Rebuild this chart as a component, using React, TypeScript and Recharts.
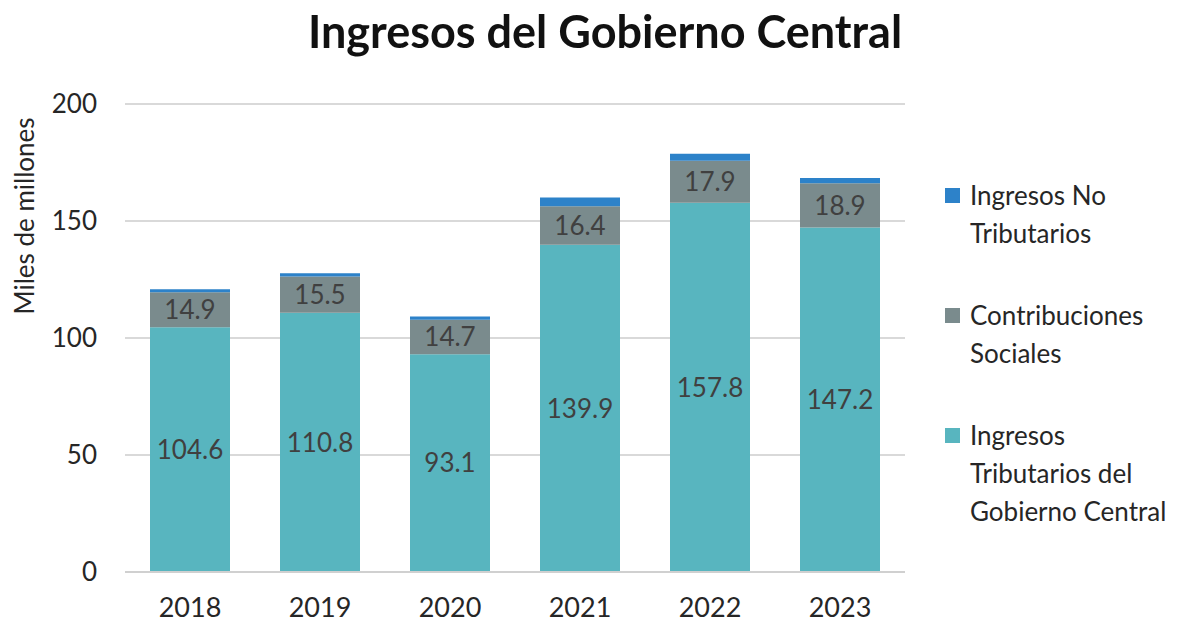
import { Bar, BarChart, CartesianGrid, LabelList, XAxis, YAxis } from "recharts";

const YEARS = ["2018", "2019", "2020", "2021", "2022", "2023"];
const TRIBUTARIOS = [104.6, 110.8, 93.1, 139.9, 157.8, 147.2];
const CONTRIBUCIONES = [14.9, 15.5, 14.7, 16.4, 17.9, 18.9];
const NO_TRIBUTARIOS = [1.3, 1.4, 1.4, 3.7, 3.0, 2.3];
const Y_TICKS = [0, 50, 100, 150, 200];

const FONT = "Lato, 'Open Sans', sans-serif";
const TEAL = "#58B5BF";
const GRAY = "#7A8B8D";
const BLUE = "#2D82C9";

const LEGEND_ITEMS = [
  { color: BLUE, lines: ["Ingresos No", "Tributarios"] },
  { color: GRAY, lines: ["Contribuciones", "Sociales"] },
  { color: TEAL, lines: ["Ingresos", "Tributarios del", "Gobierno Central"] },
];

const data = YEARS.map((year, i) => ({
  year,
  tributarios: TRIBUTARIOS[i],
  contribuciones: CONTRIBUCIONES[i],
  noTributarios: NO_TRIBUTARIOS[i],
}));

function ChartLegend() {
  return (
    <div
      style={{
        position: "absolute", left: 945, top: 176, width: 250,
        fontFamily: FONT, fontSize: 26, color: "#262626", lineHeight: "38px",
      }}
    >
      {LEGEND_ITEMS.map((it, i) => (
        <div key={i} style={{ display: "flex", alignItems: "flex-start", marginBottom: 44 }}>
          <span style={{ width: 15, height: 15, background: it.color, marginTop: 12, marginRight: 10, flexShrink: 0 }} />
          <div>
            {it.lines.map((l) => (
              <div key={l} style={{ whiteSpace: "nowrap" }}>{l}</div>
            ))}
          </div>
        </div>
      ))}
    </div>
  );
}

const fmt = (v: any) => Number(v).toFixed(1);

export default function App() {
  return (
    <div style={{ position: "fixed", left: 0, top: 0, width: 1197, height: 626, background: "#fff" }}>
      <BarChart
        width={1197}
        height={626}
        data={data}
        margin={{ top: 104, right: 292, bottom: 0, left: 0 }}
      >
        <CartesianGrid vertical={false} stroke="#d9d9d9" strokeWidth={2} />
        <XAxis
          dataKey="year"
          height={54}
          tickLine={false}
          axisLine={{ stroke: "#d0d0d0", strokeWidth: 2 }}
          tickMargin={20}
          tick={{ fill: "#262626", fontSize: 27, fontFamily: FONT }}
        />
        <YAxis
          width={125}
          domain={[0, 200]}
          ticks={Y_TICKS}
          tickLine={false}
          axisLine={false}
          tickMargin={22}
          tick={{ fill: "#262626", fontSize: 26, fontFamily: FONT }}
        />
        <Bar dataKey="tributarios" stackId="a" fill={TEAL} barSize={80} isAnimationActive={false}>
          <LabelList dataKey="tributarios" position="center" fill="#404040" fontSize={26} fontFamily={FONT} formatter={fmt} />
        </Bar>
        <Bar dataKey="contribuciones" stackId="a" fill={GRAY} barSize={80} isAnimationActive={false}>
          <LabelList dataKey="contribuciones" position="center" fill="#404040" fontSize={26} fontFamily={FONT} formatter={fmt} />
        </Bar>
        <Bar dataKey="noTributarios" stackId="a" fill={BLUE} barSize={80} isAnimationActive={false} />
      </BarChart>
      <div
        style={{
          position: "absolute", left: 0, width: 1210, top: 4, textAlign: "center",
          fontFamily: FONT, fontWeight: 700, fontSize: 45, color: "#111",
        }}
      >
        Ingresos del Gobierno Central
      </div>
      <div
        style={{
          position: "absolute", left: 24, top: 216, transform: "translate(-50%, -50%) rotate(-90deg)",
          fontFamily: FONT, fontSize: 26, color: "#262626", whiteSpace: "nowrap",
        }}
      >
        Miles de millones
      </div>
      <ChartLegend />
    </div>
  );
}
